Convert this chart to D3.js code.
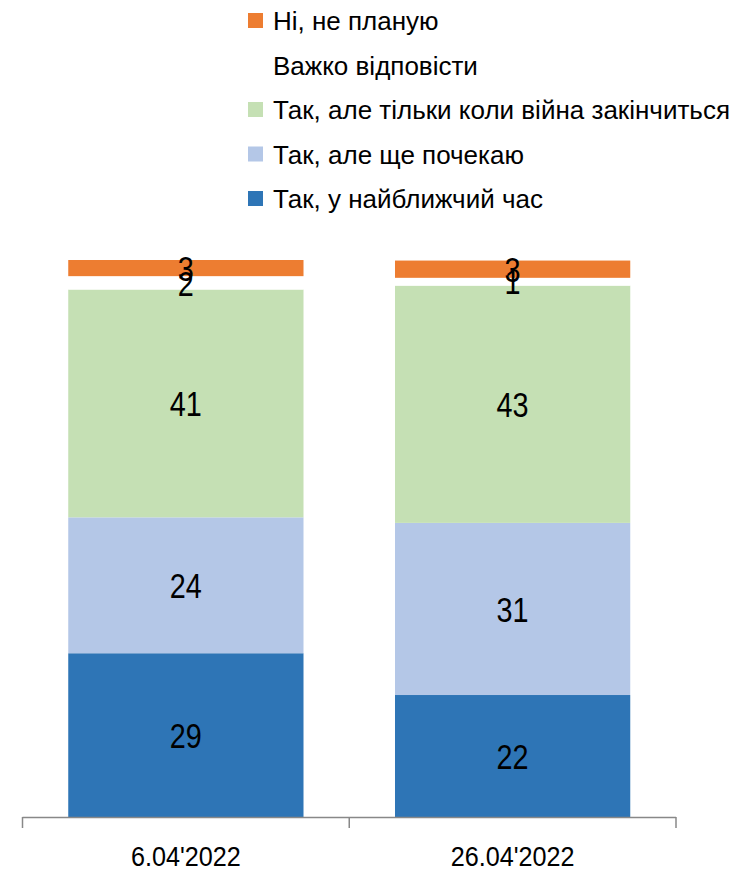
<!DOCTYPE html>
<html>
<head>
<meta charset="utf-8">
<script src="https://cdn.jsdelivr.net/npm/d3@7/dist/d3.min.js" charset="utf-8"></script>
<style>
  body { margin: 0; background: #fff; }
  svg text { font-family: "Liberation Sans", Arial, sans-serif; fill: #000; }
</style>
</head>
<body>
<div id="main"></div>
<script>
// survey dates (categories)
var dates = ["6.04'2022", "26.04'2022"];

// series, bottom to top of each stack
var seriesNames = [
  "Так, у найближчий час",
  "Так, але ще почекаю",
  "Так, але тільки коли війна закінчиться",
  "Важко відповісти",
  "Ні, не планую"
];
var soonest = [29.4, 21.9];
var laterWait = [24.4, 30.9];
var afterWar = [40.9, 42.6];
var hardToSay = [2.4, 1.4];
var notPlanning = [2.9, 3.1];

var colors = ["#2E75B6", "#B4C7E7", "#C5E0B4", "#FFFFFF", "#ED7D31"];

var rows = dates.map(function(d, i) {
  return {
    date: d,
    s0: soonest[i], s1: laterWait[i], s2: afterWar[i], s3: hardToSay[i], s4: notPlanning[i]
  };
});
var keys = ["s0", "s1", "s2", "s3", "s4"];

var width = 751, height = 872;
var svg = d3.select('#main').append('svg')
  .attr('width', width)
  .attr('height', height);

var x = d3.scaleBand()
  .domain(dates)
  .range([22.5, 676])
  .paddingInner(0.28)
  .paddingOuter(0.14);

var y = d3.scaleLinear()
  .domain([0, 100])
  .range([817, 260]);

var stack = d3.stack().keys(keys);
var layers = stack(rows);

var g = svg.selectAll('g.layer')
  .data(layers)
  .enter().append('g')
  .attr('class', 'layer')
  .attr('fill', function(d, i) { return colors[i]; });

g.selectAll('rect')
  .data(function(d) { return d; })
  .enter().append('rect')
  .attr('x', function(d) { return x(d.data.date); })
  .attr('width', x.bandwidth())
  .attr('y', function(d) { return y(d[1]); })
  .attr('height', function(d) { return y(d[0]) - y(d[1]); });

// value labels in the middle of each segment (narrow, tall digits like the original)
var fmt = d3.format('.0f');
layers.forEach(function(layer) {
  svg.append('g').selectAll('text')
    .data(layer)
    .enter().append('text')
    .attr('transform', function(d) {
      var cx = x(d.data.date) + x.bandwidth() / 2;
      var cy = (y(d[0]) + y(d[1])) / 2;
      return 'translate(' + cx + ',' + cy + ') scale(0.8,1)';
    })
    .attr('text-anchor', 'middle')
    .attr('dominant-baseline', 'central')
    .style('font-size', '36px')
    .text(function(d) { return fmt(d[1] - d[0]); });
});

// category axis: baseline with ticks at band boundaries
var axis = svg.append('g');
var x0 = x.range()[0], x1 = x.range()[1];
axis.append('line')
  .attr('x1', x0).attr('x2', x1)
  .attr('y1', 817.5).attr('y2', 817.5)
  .attr('stroke', '#888').attr('stroke-width', 1.5);
var tickXs = [x0].concat(dates.map(function(d) { return x(d) + x.bandwidth() + x.step() * x.paddingInner() / 2; }));
tickXs[tickXs.length - 1] = x1;
axis.selectAll('line.tick')
  .data(tickXs)
  .enter().append('line')
  .attr('class', 'tick')
  .attr('x1', function(d) { return d; }).attr('x2', function(d) { return d; })
  .attr('y1', 817).attr('y2', 828)
  .attr('stroke', '#888').attr('stroke-width', 1.5);
axis.selectAll('text')
  .data(dates)
  .enter().append('text')
  .attr('transform', function(d) {
    return 'translate(' + (x(d) + x.bandwidth() / 2) + ',857) scale(0.9,1)';
  })
  .attr('text-anchor', 'middle')
  .attr('dominant-baseline', 'central')
  .style('font-size', '28px')
  .text(function(d) { return d; });

// legend, top series first
var legendOrder = [4, 3, 2, 1, 0];
var legend = svg.append('g');
var item = legend.selectAll('g')
  .data(legendOrder)
  .enter().append('g')
  .attr('transform', function(d, i) { return 'translate(248,' + (20 + i * 44.5) + ')'; });
item.append('rect')
  .attr('x', 0).attr('y', -7)
  .attr('width', 15).attr('height', 15)
  .attr('fill', function(d) { return colors[d]; });
item.append('text')
  .attr('x', 25)
  .attr('y', 1)
  .attr('dominant-baseline', 'central')
  .style('font-size', '26px')
  .text(function(d) { return seriesNames[d]; });
</script>
</body>
</html>
